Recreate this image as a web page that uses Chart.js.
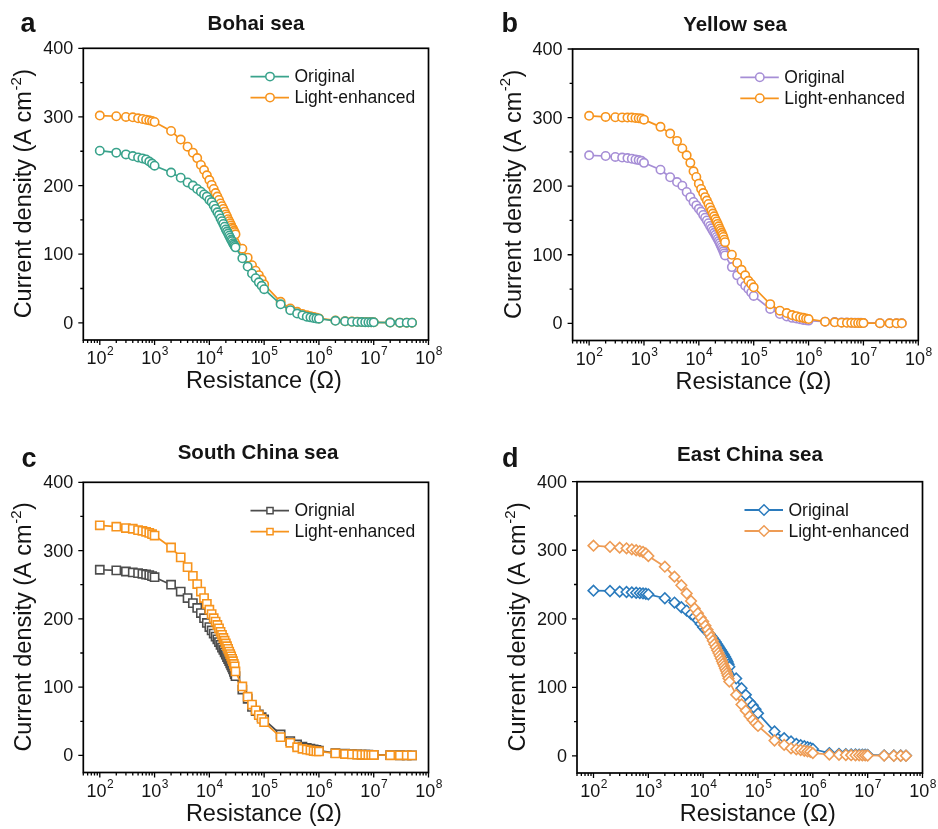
<!DOCTYPE html>
<html>
<head>
<meta charset="utf-8">
<script src="https://cdn.jsdelivr.net/npm/chart.js@4.4.1/dist/chart.umd.min.js"></script>
<style>
  body { margin: 0; background: #fff; width: 938px; height: 829px; position: relative; overflow: hidden; }
  canvas { position: absolute; }
</style>
</head>
<body>
<canvas id="bohai" width="469" height="414" style="left:0;top:0"></canvas>
<canvas id="yellow" width="469" height="414" style="left:469px;top:0"></canvas>
<canvas id="southChina" width="469" height="415" style="left:0;top:414px"></canvas>
<canvas id="eastChina" width="469" height="415" style="left:469px;top:414px"></canvas>
<script>
// load resistance (ohm) swept for every sample
const resistance = [
  100, 200, 300, 400, 500, 600, 700, 800, 900, 1000,
  2000, 3000, 4000, 5000, 6000, 7000, 8000, 9000, 10000,
  11000, 12000, 13000, 14000, 15000, 16000, 17000, 18000, 19000, 20000,
  21000, 22000, 23000, 24000, 25000, 26000, 27000, 28000, 29000, 30000,
  40000, 50000, 60000, 70000, 80000, 90000, 100000,
  2e5, 3e5, 4e5, 5e5, 6e5, 7e5, 8e5, 9e5, 1e6,
  2e6, 3e6, 4e6, 5e6, 6e6, 7e6, 8e6, 9e6, 1e7,
  2e7, 3e7, 4e7, 5e7
];

// current density (A cm-2)
const bohaiOriginal = [
  250.8, 248, 245.4, 243, 241, 239.6, 238, 235, 232, 229,
  219, 211.4, 204.6, 200, 195, 191, 187, 184, 179,
  176, 171, 166, 161, 157, 152, 148, 144, 140, 136,
  133, 130, 127, 124, 121, 119, 116, 114, 112, 110,
  94, 82, 72, 65, 59, 54, 49,
  27, 18.5, 13.5, 11, 9, 8, 7, 6.5, 6,
  3, 2.2, 1.6, 1.3, 1.1, 1, 0.9, 0.8, 0.8,
  0.4, 0.3, 0.2, 0.2
];
const bohaiLight = [
  302, 301, 300, 299.5, 298, 297, 296, 295, 294, 292.6,
  279.5, 267, 256.6, 248, 240, 230, 222.6, 215, 208,
  201, 195, 189, 184, 179, 174, 170, 166, 162, 158,
  155, 151, 148, 145, 142, 139, 137, 134, 132, 129,
  108, 95, 84, 76, 69.5, 63, 56,
  30.6, 21, 16, 13, 11, 9.5, 8.5, 7.5, 6.5,
  3.5, 2.5, 1.8, 1.5, 1.3, 1.1, 1, 0.9, 0.8,
  0.4, 0.3, 0.2, 0.2
];
const yellowOriginal = [
  245, 244, 242.6, 241.7, 241, 240, 239, 238, 237, 234,
  224, 213, 206, 200.7, 191.5, 184, 177, 172, 167,
  163, 158, 154, 150, 146, 142, 138.5, 135, 132, 129,
  126, 123, 120, 117, 114, 111, 108, 105, 102, 99,
  82, 70, 61, 55, 50, 45, 40,
  21, 13.6, 10, 8, 7, 6, 5, 4.5, 4,
  2.5, 1.8, 1.4, 1.2, 1, 0.9, 0.8, 0.7, 0.6,
  0.3, 0.2, 0.2, 0.1
];
const yellowLight = [
  302.6, 301, 300.5, 300.3, 300, 300, 299.5, 299, 298.5, 297,
  286.5, 276.7, 266, 255, 245, 234, 221.7, 213.4, 203.7,
  196, 190, 184, 179, 174, 169, 164.5, 160, 156, 152,
  148.5, 145, 141.5, 138, 135, 132, 129, 126, 122, 118.4,
  100, 88, 78, 70, 62, 57.5, 52.6,
  28, 18.5, 15, 12, 10.5, 9, 8, 7, 6.3,
  2.4, 1.5, 1, 0.8, 0.7, 0.6, 0.5, 0.4, 0.4,
  0.2, 0.1, 0.1, 0.1
];
const southOriginal = [
  271.9, 271, 269.4, 268, 267, 266, 265, 264, 262.6, 261,
  250, 240, 230.5, 223, 216, 208.5, 201, 194, 188,
  183, 178.5, 174, 170, 166, 162, 158, 154.5, 151, 147.5,
  144, 141, 138, 135, 132, 129, 126, 122.5, 119, 116,
  96.5, 83, 71, 65, 60, 56, 52.6,
  30.7, 21, 16, 13, 11, 10, 9, 8, 7,
  3.5, 2.5, 2, 1.6, 1.3, 1.1, 1, 0.9, 0.8,
  0.4, 0.3, 0.2, 0.2
];
const southLight = [
  337, 335, 333, 332, 330, 329, 327.5, 326, 324, 322,
  304.5, 290, 275.8, 263, 251, 240, 230.5, 222, 213.4,
  207, 201, 196, 191, 186, 181, 176.5, 172, 168, 164,
  160, 156, 152, 148.5, 145, 141.5, 138, 134, 130.5, 123,
  101, 86, 74.5, 66, 59, 53.6, 48.7,
  26.8, 18.5, 12, 9.7, 8.5, 7.5, 6.5, 6, 5.8,
  3, 2, 1.5, 1.2, 1, 0.9, 0.8, 0.7, 0.6,
  0.3, 0.2, 0.2, 0.1
];
const eastOriginal = [
  241, 240.6, 239.6, 239, 238.5, 238, 237.5, 237, 236.5, 235.7,
  230, 223.6, 216.8, 212, 207, 203, 198, 192.5, 187.6,
  184, 181, 178, 175, 172, 169, 166, 163, 160, 157,
  154.5, 152, 149.5, 147, 144.5, 142, 139.5, 137, 133.5, 130,
  113, 98.7, 89, 79, 74, 68, 62,
  35.5, 25.8, 21, 17.5, 15.5, 14, 12.5, 11.5, 10,
  4, 3, 2.5, 2.2, 2, 1.8, 1.7, 1.6, 1.5,
  0.8, 0.6, 0.5, 0.4
];
const eastLight = [
  306.7, 305, 303.8, 302.8, 301.3, 300, 298.8, 297.4, 295.4, 291.6,
  276, 261.5, 249, 237, 226, 215, 208, 201.6, 196,
  190, 184, 178.5, 173, 168, 163, 158.5, 154, 150, 146,
  142, 138, 134.5, 131, 127.5, 124, 120.5, 117, 113, 108.4,
  89, 75, 66, 58, 52.5, 47.6, 43.7,
  22.4, 16, 11, 9.5, 8.5, 7.5, 6.5, 6, 4,
  2, 1.5, 1.2, 1, 0.9, 0.8, 0.7, 0.7, 0.6,
  0.4, 0.2, 0.2, 0.1
];

const yTicks = [0, 100, 200, 300, 400];
const xDecades = [2, 3, 4, 5, 6, 7, 8];

const FONT = '"Liberation Sans", Arial, sans-serif';
const INK = '#141414';

function drawMarker(ctx, style, r, x, y, color) {
  ctx.beginPath();
  if (style === 'circle') {
    ctx.arc(x, y, r, 0, Math.PI * 2);
  } else if (style === 'rect') {
    const s = r * Math.SQRT1_2;
    ctx.rect(x - s, y - s, 2 * s, 2 * s);
  } else {
    ctx.moveTo(x, y - r); ctx.lineTo(x + r, y); ctx.lineTo(x, y + r); ctx.lineTo(x - r, y); ctx.closePath();
  }
  ctx.fillStyle = '#fff';
  ctx.fill();
  ctx.lineWidth = 1.5;
  ctx.strokeStyle = color;
  ctx.stroke();
}

// frame, ticks, labels, titles and legend for one panel
const panelDecor = {
  id: 'panelDecor',
  afterDraw(chart) {
    const p = chart.options.plugins.panelDecor;
    const ctx = chart.ctx;
    const a = chart.chartArea;
    const xs = chart.scales.x, ys = chart.scales.y;
    ctx.save();
    ctx.strokeStyle = '#000';
    ctx.lineWidth = 1.7;
    ctx.strokeRect(a.left, a.top, a.right - a.left, a.bottom - a.top);

    // x ticks (log, minor at 2..9)
    ctx.lineWidth = 1.3;
    ctx.beginPath();
    for (let d = 1; d <= 8; d++) {
      for (let m = 1; m <= 9; m++) {
        const v = m * Math.pow(10, d);
        if (v < xs.min || v > xs.max) continue;
        const px = xs.getPixelForValue(v);
        const len = m === 1 ? 5 : 3;
        ctx.moveTo(px, a.bottom); ctx.lineTo(px, a.bottom + len);
      }
    }
    // y ticks, minor every 50
    for (let v = 0; v <= 400; v += 50) {
      const py = ys.getPixelForValue(v);
      const len = v % 100 === 0 ? 5 : 3;
      ctx.moveTo(a.left, py); ctx.lineTo(a.left - len, py);
    }
    ctx.stroke();

    ctx.fillStyle = INK;
    ctx.textBaseline = 'middle';
    ctx.textAlign = 'right';
    ctx.font = '18px ' + FONT;
    yTicks.forEach(v => ctx.fillText(String(v), a.left - 10, ys.getPixelForValue(v) + 1));

    // decade labels 10^n
    ctx.textBaseline = 'alphabetic';
    ctx.textAlign = 'left';
    xDecades.forEach(n => {
      const px = xs.getPixelForValue(Math.pow(10, n));
      ctx.font = '18px ' + FONT;
      const wb = ctx.measureText('10').width;
      ctx.font = '12px ' + FONT;
      const we = ctx.measureText(String(n)).width;
      const x0 = px - (wb + we) / 2;
      ctx.font = '18px ' + FONT;
      ctx.fillText('10', x0, a.bottom + 24);
      ctx.font = '12px ' + FONT;
      ctx.fillText(String(n), x0 + wb + 0.5, a.bottom + 15);
    });

    // axis titles
    ctx.font = '23.5px ' + FONT;
    ctx.textAlign = 'center';
    ctx.fillText('Resistance (\u03A9)', (a.left + a.right) / 2 + 8, a.bottom + 48);

    ctx.save();
    ctx.translate(a.left - 58.5, (a.top + a.bottom) / 2);
    ctx.rotate(-Math.PI / 2);
    ctx.textBaseline = 'middle';
    ctx.textAlign = 'left';
    const t1 = 'Current density (A cm', t2 = '-2', t3 = ')';
    ctx.font = '23.5px ' + FONT;
    const w1 = ctx.measureText(t1).width, w3 = ctx.measureText(t3).width;
    ctx.font = '15px ' + FONT;
    const w2 = ctx.measureText(t2).width;
    let tx = -(w1 + w2 + w3) / 2;
    ctx.font = '23.5px ' + FONT;
    ctx.fillText(t1, tx, 0);
    ctx.font = '15px ' + FONT;
    ctx.fillText(t2, tx + w1 + 0.5, -8);
    ctx.font = '23.5px ' + FONT;
    ctx.fillText(t3, tx + w1 + w2 + 1, 0);
    ctx.restore();

    // panel letter and title
    ctx.textBaseline = 'alphabetic';
    ctx.textAlign = 'left';
    ctx.font = 'bold 27px ' + FONT;
    ctx.fillText(p.letter, p.letterX, p.letterY);
    ctx.textAlign = 'center';
    ctx.font = 'bold 20.5px ' + FONT;
    ctx.fillText(p.title, p.titleX, p.titleY);

    // legend
    ctx.textAlign = 'left';
    ctx.textBaseline = 'middle';
    ctx.font = '17.5px ' + FONT;
    chart.data.datasets.forEach((ds, i) => {
      const ly = a.top + 28.3 + i * 21;
      const lx = a.right - 178;
      ctx.strokeStyle = ds.borderColor;
      ctx.lineWidth = 1.8;
      ctx.beginPath();
      ctx.moveTo(lx, ly); ctx.lineTo(lx + 38.5, ly);
      ctx.stroke();
      drawMarker(ctx, ds.pointStyle, ds.pointRadius * p.legendMarkerScale, lx + 19.5, ly, ds.borderColor);
      ctx.fillStyle = INK;
      ctx.fillText(ds.label, lx + 44, ly + 1);
    });
    ctx.restore();
  }
};

function makePanel(id, cfg) {
  const canvas = document.getElementById(id);
  const W = canvas.width, H = canvas.height;
  const pl = cfg.plot;
  const datasets = cfg.series.map(s => ({
    label: s.label,
    data: resistance.map((r, i) => ({ x: r, y: s.values[i] })),
    borderColor: s.color,
    backgroundColor: s.color,
    borderWidth: 1.7,
    pointStyle: cfg.marker,
    pointRadius: cfg.radius,
    pointBorderWidth: 1.6,
    pointBackgroundColor: '#fff',
    pointBorderColor: s.color,
    tension: 0,
    order: s.order
  }));
  return new Chart(canvas, {
    type: 'line',
    data: { datasets },
    options: {
      responsive: false,
      devicePixelRatio: 1,
      animation: false,
      events: [],
      layout: { padding: { left: 0, top: pl.t - cfg.oy, right: cfg.ox + W - pl.r, bottom: 0 } },
      scales: {
        x: {
          type: 'logarithmic', min: 50, max: 1e8,
          ticks: { display: false }, grid: { display: false }, border: { display: false },
          afterFit: s => { s.height = cfg.oy + H - pl.b; }
        },
        y: {
          type: 'linear', min: -25, max: 400,
          ticks: { display: false }, grid: { display: false }, border: { display: false },
          afterFit: s => { s.width = pl.l - cfg.ox; }
        }
      },
      plugins: {
        legend: { display: false },
        title: { display: false },
        tooltip: { enabled: false },
        panelDecor: {
          letter: cfg.letter, letterX: cfg.letterX - cfg.ox, letterY: cfg.letterY - cfg.oy,
          title: cfg.title, titleX: cfg.titleX - cfg.ox, titleY: cfg.titleY - cfg.oy,
          legendMarkerScale: cfg.legendMarkerScale || 1
        }
      }
    },
    plugins: [panelDecor]
  });
}

makePanel('bohai', {
  ox: 0, oy: 0, plot: { l: 83.3, t: 48.3, r: 428.5, b: 340 },
  letter: 'a', letterX: 20.5, letterY: 32, title: 'Bohai sea', titleX: 256, titleY: 30,
  marker: 'circle', radius: 4.2,
  series: [
    { label: 'Original', values: bohaiOriginal, color: '#3aa38c', order: 1 },
    { label: 'Light-enhanced', values: bohaiLight, color: '#f7941d', order: 2 }
  ]
});
makePanel('yellow', {
  ox: 469, oy: 0, plot: { l: 572.6, t: 49, r: 918.3, b: 340.5 },
  letter: 'b', letterX: 501.5, letterY: 32.3, title: 'Yellow sea', titleX: 735, titleY: 30.7,
  marker: 'circle', radius: 4.2,
  series: [
    { label: 'Original', values: yellowOriginal, color: '#a68ed6', order: 2 },
    { label: 'Light-enhanced', values: yellowLight, color: '#f7941d', order: 1 }
  ]
});
makePanel('southChina', {
  ox: 0, oy: 414, plot: { l: 83.3, t: 482.3, r: 428.5, b: 772.5 },
  letter: 'c', letterX: 21.5, letterY: 467.3, title: 'South China sea', titleX: 258, titleY: 459.3,
  marker: 'rect', radius: 5.8, legendMarkerScale: 0.75,
  series: [
    { label: 'Orignial', values: southOriginal, color: '#4d4d4d', order: 2 },
    { label: 'Light-enhanced', values: southLight, color: '#f7941d', order: 1 }
  ]
});
makePanel('eastChina', {
  ox: 469, oy: 414, plot: { l: 577, t: 481.7, r: 922.5, b: 773 },
  letter: 'd', letterX: 502, letterY: 467.3, title: 'East China sea', titleX: 750, titleY: 460.7,
  marker: 'rectRot', radius: 5.3,
  series: [
    { label: 'Original', values: eastOriginal, color: '#2b7bbd', order: 2 },
    { label: 'Light-enhanced', values: eastLight, color: '#ee9c55', order: 1 }
  ]
});
</script>
</body>
</html>
